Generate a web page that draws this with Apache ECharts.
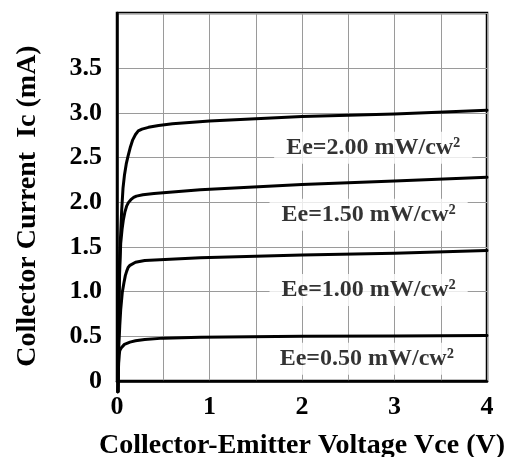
<!DOCTYPE html>
<html>
<head>
<meta charset="utf-8">
<script src="https://cdn.jsdelivr.net/npm/echarts@6/dist/echarts.min.js"></script>
<style>
html,body{margin:0;padding:0;background:#fff;}
#c{width:516px;height:457px;}
</style>
</head>
<body>
<div id="c"></div>
<script>
// ---- data ----
var xTicks = [0, 1, 2, 3, 4];
var yTicks = [0, 0.5, 1.0, 1.5, 2.0, 2.5, 3.0, 3.5];
var seriesNames = ['Ee=2.00 mW/cw²', 'Ee=1.50 mW/cw²', 'Ee=1.00 mW/cw²', 'Ee=0.50 mW/cw²'];

var curve200 = [[0.01,-0.12],[0.015,0.6],[0.022,1.1],[0.03,1.4],[0.038,1.61],[0.05,1.9],[0.065,2.16],[0.08,2.30],[0.1,2.43],[0.12,2.52],[0.145,2.62],[0.17,2.70],[0.2,2.76],[0.23,2.80],[0.27,2.82],[0.34,2.84],[0.45,2.86],[0.6,2.88],[1.0,2.91],[2.0,2.96],[3.0,2.99],[4.0,3.03]];
var curve150 = [[0.01,-0.12],[0.018,0.6],[0.028,1.2],[0.04,1.54],[0.055,1.70],[0.068,1.80],[0.085,1.89],[0.105,1.96],[0.125,2.00],[0.15,2.03],[0.18,2.055],[0.21,2.07],[0.28,2.085],[0.4,2.10],[0.9,2.14],[2.0,2.20],[3.0,2.24],[4.0,2.28]];
var curve100 = [[0.01,-0.12],[0.02,0.4],[0.03,0.62],[0.04,0.80],[0.057,0.99],[0.075,1.10],[0.09,1.18],[0.105,1.23],[0.12,1.27],[0.14,1.295],[0.16,1.31],[0.2,1.33],[0.3,1.35],[0.9,1.38],[2.0,1.41],[3.0,1.43],[4.0,1.46]];
var curve050 = [[0.01,-0.12],[0.014,0.1],[0.018,0.2],[0.024,0.29],[0.03,0.34],[0.045,0.37],[0.06,0.39],[0.08,0.41],[0.1,0.42],[0.14,0.435],[0.2,0.45],[0.3,0.465],[0.5,0.48],[0.9,0.49],[2.0,0.50],[3.0,0.505],[4.0,0.51]];

var labelX = [2.77, 2.72, 2.72, 2.70];
var labelY = [2.61, 1.86, 1.02, 0.25];

var curves = [curve200, curve150, curve100, curve050];

var FONT = 'Liberation Serif';
var chart = echarts.init(document.getElementById('c'), null, {renderer: 'canvas'});

var series = curves.map(function (c, i) {
  return {
    type: 'line',
    name: seriesNames[i],
    data: c,
    showSymbol: false,
    symbol: 'none',
    smooth: false,
    clip: false,
    lineStyle: {color: '#000', width: 3, join: 'round', cap: 'round'},
    z: 3
  };
});

series.push({
  type: 'scatter',
  symbolSize: 0,
  data: labelX.map(function (x, i) { return {value: [x, labelY[i]], name: seriesNames[i]}; }),
  label: {
    show: true,
    position: 'inside',
    formatter: function (p) { return p.name; },
    color: '#000',
    fontFamily: FONT,
    fontWeight: 'bold',
    fontSize: 24,
    backgroundColor: '#fff',
    padding: [4, 12]
  },
  z: 5,
  silent: true
});

var yMax = 4.12;
var yLineColors = [];
for (var k = 0; k < 10; k++) yLineColors.push(k === 8 ? 'rgba(0,0,0,0)' : '#9a9a9a');

chart.setOption({
  backgroundColor: '#fff',
  animation: false,
  grid: {
    left: 117, right: 29, top: 13, bottom: 76,
    show: true, borderColor: '#000', borderWidth: 2.5,
    containLabel: false,
    outerBoundsMode: 'none'
  },
  xAxis: {
    type: 'value',
    min: 0, max: 4, interval: 0.5,
    name: 'Collector-Emitter Voltage Vce (V)',
    nameLocation: 'middle',
    nameGap: 51,
    nameTextStyle: {fontFamily: FONT, fontWeight: 'bold', fontSize: 28, color: '#000'},
    axisLine: {show: true, lineStyle: {color: '#000', width: 2.5}},
    axisTick: {show: false},
    axisLabel: {
      fontFamily: FONT, fontWeight: 'bold', fontSize: 26, color: '#000', margin: 13,
      formatter: function (v) { return xTicks.indexOf(v) >= 0 ? String(v) : ''; }
    },
    splitLine: {show: true, lineStyle: {color: '#9a9a9a', width: 1}}
  },
  yAxis: {
    type: 'value',
    min: 0, max: yMax, interval: 0.5,
    name: 'Collector Current  Ic (mA)',
    nameLocation: 'middle',
    nameGap: 75,
    nameRotate: 90,
    nameTextStyle: {fontFamily: FONT, fontWeight: 'bold', fontSize: 28, color: '#000', padding: [0, 18, 0, 0]},
    axisLine: {show: true, lineStyle: {color: '#000', width: 2.5}},
    axisTick: {show: false},
    axisLabel: {
      fontFamily: FONT, fontWeight: 'bold', fontSize: 26, color: '#000', margin: 15,
      formatter: function (v) {
        if (yTicks.indexOf(v) < 0) return '';
        return v === 0 ? '0' : v.toFixed(1);
      }
    },
    splitLine: {show: true, lineStyle: {color: yLineColors, width: 1}}
  },
  series: series
});
</script>
</body>
</html>
